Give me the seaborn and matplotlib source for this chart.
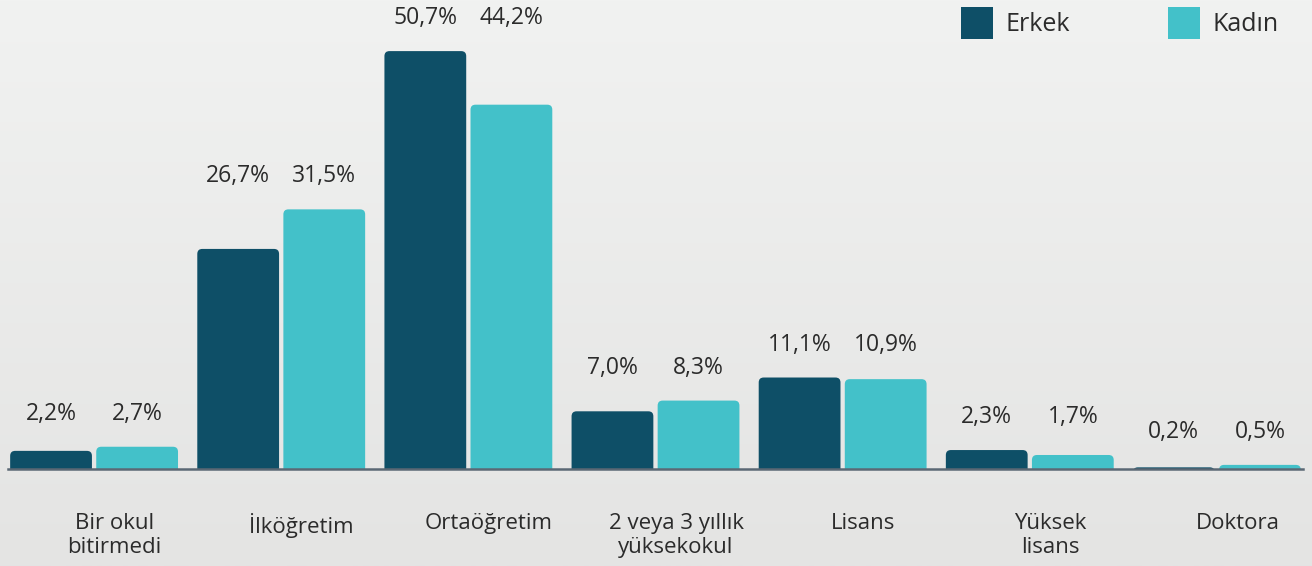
import numpy as np
import pandas as pd
import matplotlib
matplotlib.use('Agg')
import matplotlib.pyplot as plt
from matplotlib.patches import FancyBboxPatch
import seaborn as sns

# Data
categories = ['Bir okul\nbitirmedi', 'İlköğretim', 'Ortaöğretim',
              '2 veya 3 yıllık\nyüksekokul', 'Lisans', 'Yüksek\nlisans', 'Doktora']
erkek = [2.2, 26.7, 50.7, 7.0, 11.1, 2.3, 0.2]
kadin = [2.7, 31.5, 44.2, 8.3, 10.9, 1.7, 0.5]
series = ['Erkek', 'Kadın']

DARK = '#0e4f67'
LIGHT = '#43c1c9'
TEXT = '#2b2b2b'

df = pd.DataFrame({
    'kategori': categories * 2,
    'oran': erkek + kadin,
    'cinsiyet': [series[0]] * len(categories) + [series[1]] * len(categories),
})

sns.set_theme(style='white')
plt.rcParams['font.family'] = ['Open Sans', 'DejaVu Sans']

W, H = 1312, 566
fig = plt.figure(figsize=(W / 100, H / 100), dpi=100)

# soft gradient background
bg = fig.add_axes([0, 0, 1, 1], zorder=-10)
grad = np.linspace(0, 1, 256).reshape(-1, 1)
bg.imshow(grad, aspect='auto', cmap=matplotlib.colors.LinearSegmentedColormap.from_list(
    'bg', ['#f1f2f1', '#e4e4e3']), extent=[0, 1, 0, 1], origin='upper')
bg.axis('off')

ax = fig.add_axes([8 / W, (H - 469) / H, (1303 - 8) / W, 469 / H])
ax.patch.set_alpha(0)

sns.barplot(data=df, x='kategori', y='oran', hue='cinsiyet',
            palette=[DARK, LIGHT], width=0.92, gap=0.05, saturation=1,
            edgecolor='none', ax=ax)

XMIN, XMAX, YMAX = -0.46, 6.46, 56.9
ax.set_xlim(XMIN, XMAX)
ax.set_ylim(0, YMAX)

# pixel sizes of one data unit, used for the rounded bar tops
px_x = (1303 - 8) / (XMAX - XMIN)
px_y = 469 / YMAX
aspect = px_x / px_y
for cont in ax.containers:
    for bar in cont:
        x, w, h = bar.get_x(), bar.get_width(), bar.get_height()
        r_px = min(5.0, h * px_y / 2 + 4)
        ext = 1.0  # hide bottom rounding below the baseline
        rb = FancyBboxPatch((x, -ext), w, h + ext,
                            boxstyle=f'round,pad=0,rounding_size={r_px / px_x}',
                            mutation_aspect=aspect, facecolor=bar.get_facecolor(),
                            edgecolor='none', zorder=bar.get_zorder())
        ax.add_patch(rb)
        bar.set_visible(False)

# value labels above each group
for cont, vals in zip(ax.containers, [erkek, kadin]):
    for i, (bar, v) in enumerate(zip(cont, vals)):
        top = max(erkek[i], kadin[i]) + 4.0
        ax.text(bar.get_x() + bar.get_width() / 2, top, f'{v:.1f}%'.replace('.', ','),
                ha='center', va='center', fontsize=16.5, color=TEXT)

# category labels, slightly offset to the right
ax.set_xticks([])
for i, lab in enumerate(categories):
    ax.text(i + 0.11, -44 / px_y, lab, ha='center', va='top', fontsize=16,
            color=TEXT, linespacing=1.17, clip_on=False)

ax.set_xlabel('')
ax.set_ylabel('')
ax.set_yticks([])
for s in ['top', 'right', 'left']:
    ax.spines[s].set_visible(False)
ax.spines['bottom'].set_color('#5b6874')
ax.spines['bottom'].set_linewidth(1.8)
ax.spines['bottom'].set_zorder(5)

sns.move_legend(ax, 'upper right', bbox_to_anchor=(1.0 - 9 / 1295, 1.0 + 8 / 469),
                ncol=2, frameon=False, title=None, fontsize=18,
                handlelength=1.3, handleheight=1.6, handletextpad=0.5,
                columnspacing=3.9, borderaxespad=0.2)
for t in ax.get_legend().get_texts():
    t.set_color(TEXT)

fig.savefig('out.png', dpi=100)
